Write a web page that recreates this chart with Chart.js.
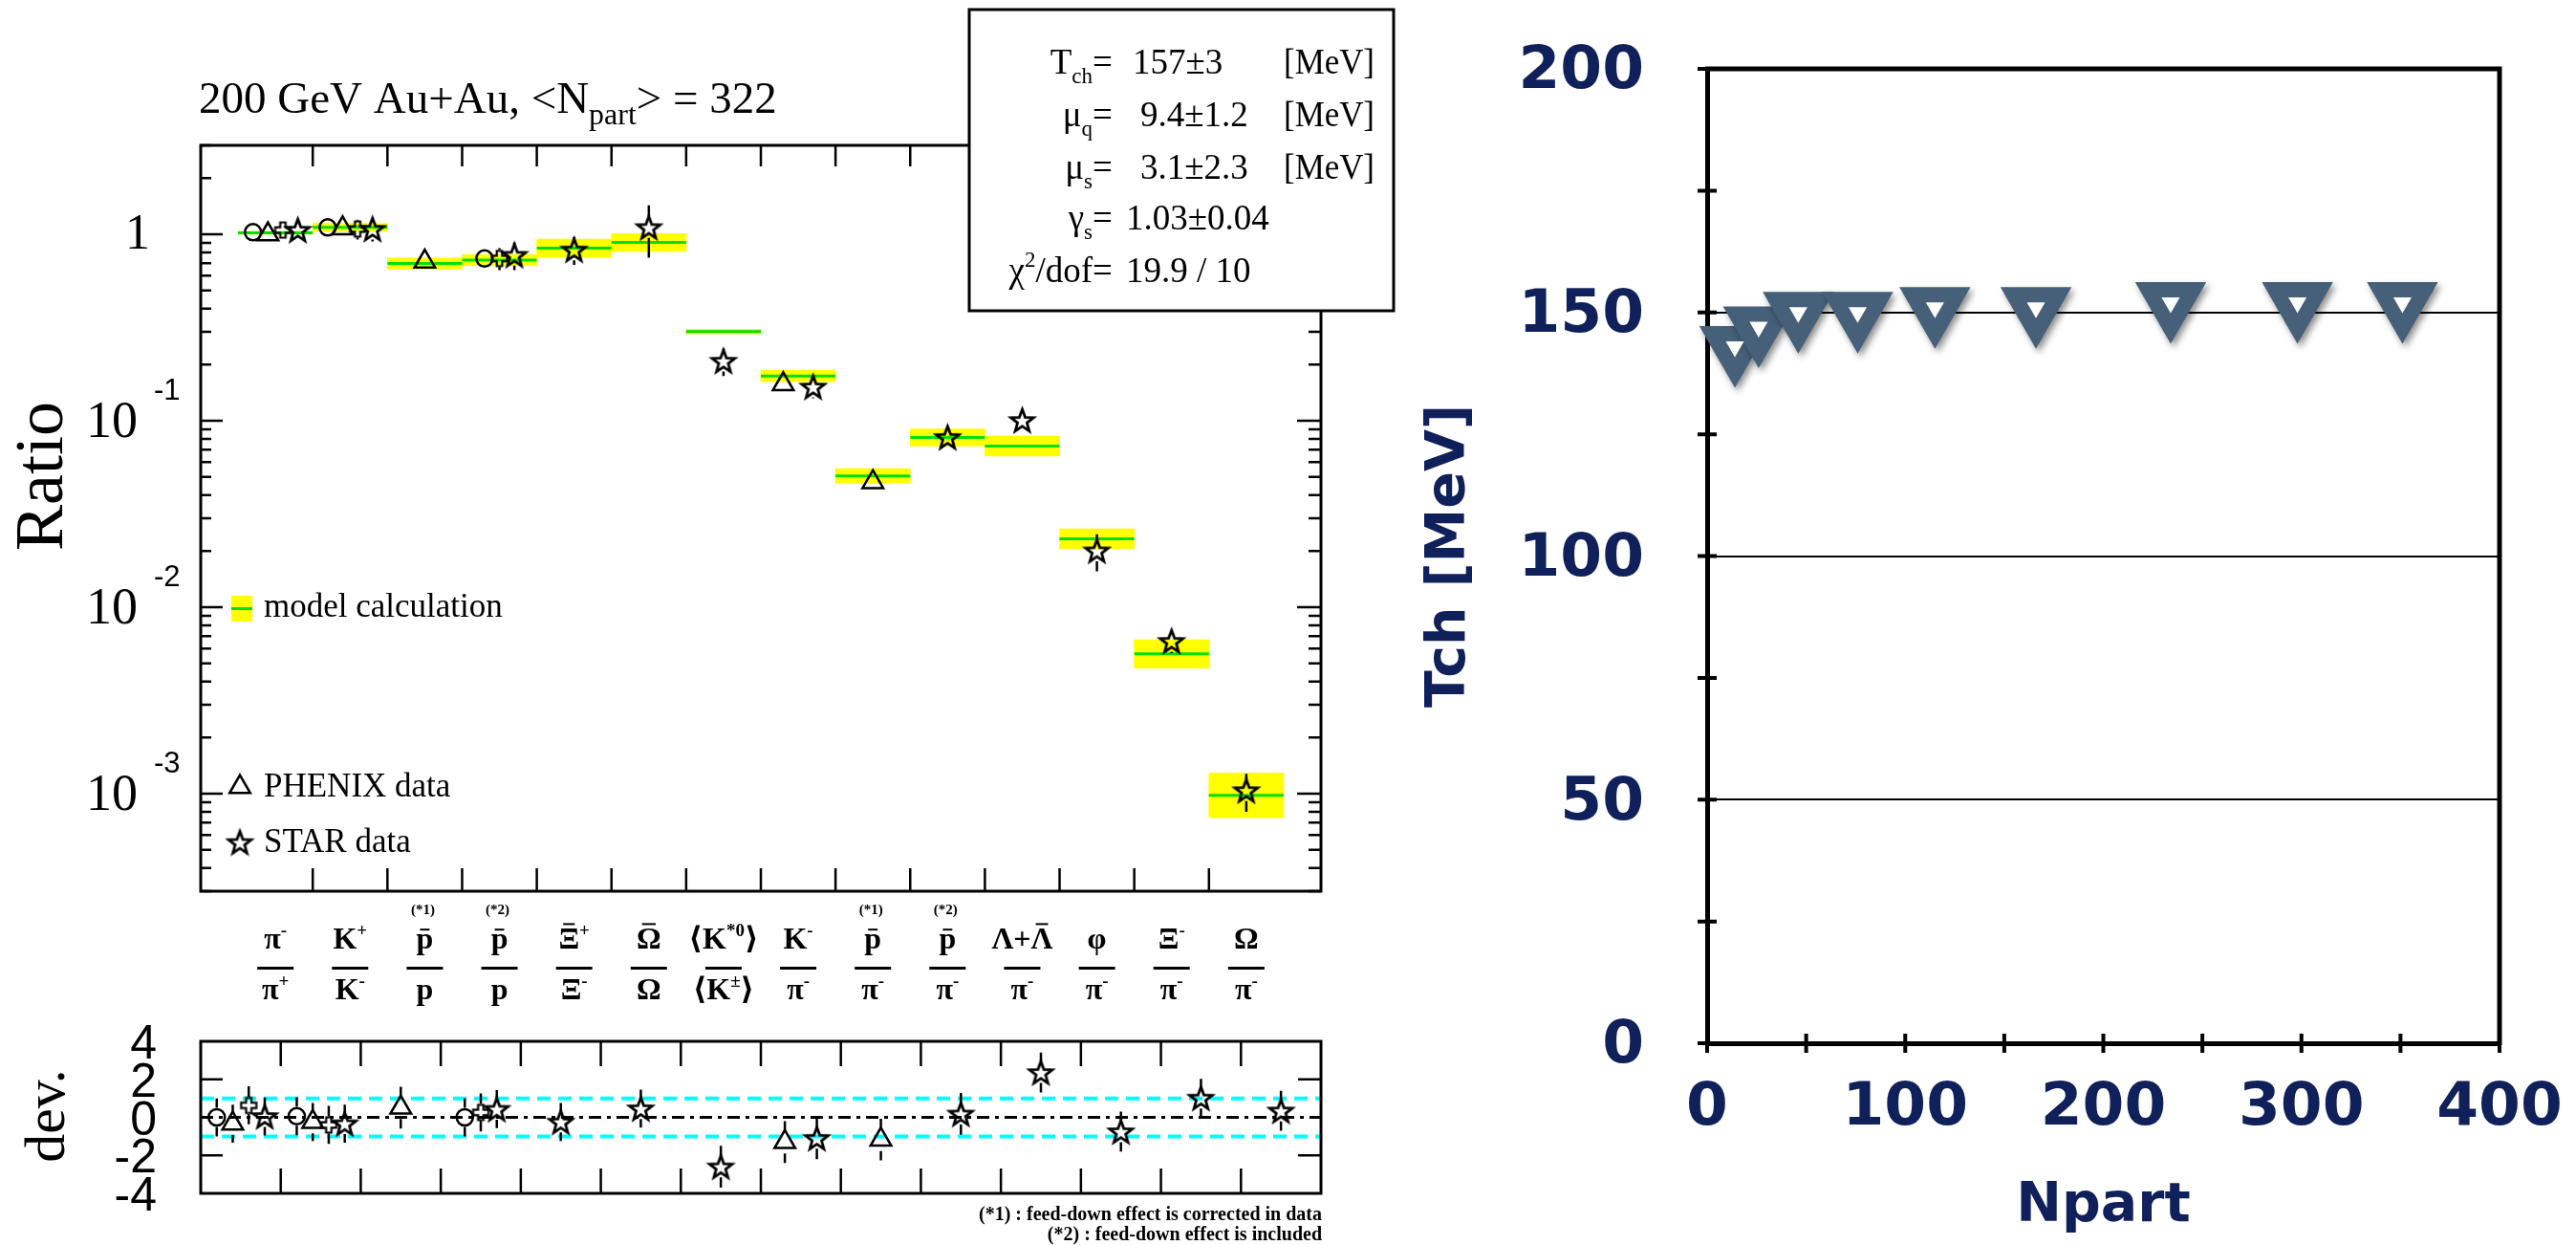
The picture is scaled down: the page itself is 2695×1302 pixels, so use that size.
<!DOCTYPE html>
<html><head><meta charset="utf-8">
<script src="https://cdn.jsdelivr.net/npm/chart.js@4.4.1/dist/chart.umd.min.js"></script>
<style>
html,body{margin:0;padding:0;background:#fff;}
#wrap{position:relative;width:2695px;height:1302px;overflow:hidden;background:#fff;}
#wrap canvas{position:absolute;left:0;top:0;width:2695px;height:1302px;}
</style></head><body>
<div id="wrap">
<canvas id="cRatio" width="2695" height="1302"></canvas>
<canvas id="cDev" width="2695" height="1302"></canvas>
<canvas id="cTch" width="2695" height="1302"></canvas>
</div>
<script>
// ================= DATA =================
// Left panel: particle ratios, 200 GeV Au+Au, <Npart> = 322
const ratioNumerators   = ['π^{-}','K^{+}','p̄','p̄','Ξ̄^{+}','Ω̄','⟨K^{*0}⟩','K^{-}','p̄','p̄','Λ+Λ̄','φ','Ξ^{-}','Ω'];
const ratioDenominators = ['π^{+}','K^{-}','p','p','Ξ^{-}','Ω','⟨K^{±}⟩','π^{-}','π^{-}','π^{-}','π^{-}','π^{-}','π^{-}','π^{-}'];
const feedDownNotes     = ['','','(*1)','(*2)','','','','','(*1)','(*2)','','','',''];

const modelRatio = [1.018, 1.089, 0.697, 0.728, 0.842, 0.904, 0.301, 0.174, 0.0506, 0.0813, 0.0731, 0.0233, 0.00562, 0.00098];
const modelError = [0.018, 0.055, 0.050, 0.051, 0.100, 0.104, 0.009, 0.013, 0.0048, 0.0090, 0.0095, 0.0030, 0.00107, 0.00031];

const brahmsRatio = [1.026, 1.089, null, 0.742, null, null, null, null, null, null, null, null, null, null];
const brahmsError = [0.03, 0.03, null, 0.07, null, null, null, null, null, null, null, null, null, null];
const phenixRatio = [1.000, 1.076, 0.714, null, null, null, null, 0.157, 0.0469, null, null, null, null, null];
const phenixError = [0.03, 0.03, 0.05, null, null, null, null, 0.008, 0.003, null, null, null, null, null];
const phobosRatio = [1.054, 1.067, null, 0.742, null, null, null, null, null, null, null, null, null, null];
const phobosError = [0.10, 0.13, null, 0.10, null, null, null, null, null, null, null, null, null, null];
const starRatio   = [1.054, 1.067, null, 0.773, 0.826, 1.089, 0.209, 0.152, null, 0.0815, 0.1005, 0.0201, 0.00657, 0.00104];
const starError   = [0.10, 0.15, null, 0.13, 0.14, 0.34, 0.035, 0.020, null, 0.008, 0.008, 0.0045, 0.0009, 0.00024];

const brahmsDev = [0.00, 0.06, null, 0.00, null, null, null, null, null, null, null, null, null, null];
const phenixDev = [-0.33, -0.24, 0.51, null, null, null, null, -1.30, -1.17, null, null, null, null, null];
const phobosDev = [0.63, -0.40, null, 0.26, null, null, null, null, null, null, null, null, null, null];
const starDev   = [0.05, -0.33, null, 0.43, -0.24, 0.46, -2.60, -1.10, null, 0.18, 2.36, -0.75, 1.02, 0.34];
const devUncertainty = [1.0, 1.0, 1.1, 1.0, 1.0, 1.0, 1.1, 1.1, 1.1, 1.1, 1.05, 1.05, 1.0, 1.05];
const devBands = [-1, 0, 1];

const ratioTicks = [1e-3, 1e-2, 1e-1, 1];
const devTicks = [4, 2, 0, -2, -4];

const fitParams = [
  {name:'T', sub:'ch', value:'157±3',     unit:'[MeV]'},
  {name:'μ', sub:'q',  value:'9.4±1.2',   unit:'[MeV]'},
  {name:'μ', sub:'s',  value:'3.1±2.3',   unit:'[MeV]'},
  {name:'γ', sub:'s',  value:'1.03±0.04', unit:''},
  {name:'χ', sup:'2', tail:'/dof', value:'19.9 / 10', unit:''}
];
const footNotes = ['(*1) : feed-down effect is corrected in data', '(*2) : feed-down effect is included'];
const legendLabels = ['model calculation', 'PHENIX data', 'STAR data'];

// Right panel: chemical freeze-out temperature vs Npart
const npart = [14, 26, 46, 76, 115, 166, 234, 298, 351];
const tch   = [143, 147, 150, 150, 151, 151, 152, 152, 152];
const npartTicks = [0, 100, 200, 300, 400];
const tchTicks = [0, 50, 100, 150, 200];

// ================= STYLE =================
const SERIF = '"Liberation Serif","DejaVu Serif",serif';
const SANS = '"Liberation Sans","DejaVu Sans",sans-serif';
const ROUND = '"DejaVu Sans",sans-serif';
const NAVY = '#10205a';
const MACRON = '\u0304';
const SLOT_OFFSETS = {1:[0], 2:[-0.2, 0.2], 3:[-0.2, 0, 0.2], 4:[-0.3, -0.1, 0.1, 0.3]};

function makeStarImage(R, r, lw) {
  const s = Math.ceil(2 * R + 2 * lw + 4);
  const c = document.createElement('canvas'); c.width = s; c.height = s;
  const g = c.getContext('2d');
  g.translate(s / 2, s / 2 + 1);
  g.beginPath();
  for (let k = 0; k < 10; k++) {
    const ang = -Math.PI / 2 + k * Math.PI / 5;
    const rr = (k % 2) ? r : R;
    g.lineTo(rr * Math.cos(ang), rr * Math.sin(ang));
  }
  g.closePath();
  g.lineWidth = lw; g.strokeStyle = '#000'; g.lineJoin = 'miter'; g.stroke();
  return c;
}
function makeCrossImage(a, t, lw) {
  const s = Math.ceil(2 * a + 2 * lw + 4);
  const c = document.createElement('canvas'); c.width = s; c.height = s;
  const g = c.getContext('2d');
  g.translate(s / 2, s / 2);
  const pts = [[-t,-a],[t,-a],[t,-t],[a,-t],[a,t],[t,t],[t,a],[-t,a],[-t,t],[-a,t],[-a,-t],[-t,-t]];
  g.beginPath(); pts.forEach(p => g.lineTo(p[0], p[1])); g.closePath();
  g.lineWidth = lw; g.strokeStyle = '#000'; g.stroke();
  return c;
}
const starImg = makeStarImage(12.5, 5.2, 2.8);
const crossImg = makeCrossImage(8, 2.8, 2.2);

const MARKERS = {
  circle:   {pointStyle:'circle', pointRadius:8.5, borderWidth:2.5, gap:10},
  triangle: {pointStyle:'triangle', pointRadius:12.5, borderWidth:2.5, gap:12},
  cross:    {pointStyle:crossImg, pointRadius:9, borderWidth:0, gap:9},
  star:     {pointStyle:starImg, pointRadius:12, borderWidth:0, gap:11}
};

const EXPERIMENTS = [
  {name:'BRAHMS', ratio:brahmsRatio, err:brahmsError, dev:brahmsDev, marker:'circle'},
  {name:'PHENIX', ratio:phenixRatio, err:phenixError, dev:phenixDev, marker:'triangle'},
  {name:'PHOBOS', ratio:phobosRatio, err:phobosError, dev:phobosDev, marker:'cross'},
  {name:'STAR',   ratio:starRatio,   err:starError,   dev:starDev,   marker:'star'}
];

function slotX(exp, col) {
  const present = EXPERIMENTS.filter(e => e.ratio[col] != null);
  return col + 0.5 + SLOT_OFFSETS[present.length][present.indexOf(exp)];
}

function markerDatasets(kind) {
  return EXPERIMENTS.map(exp => {
    const m = MARKERS[exp.marker];
    const data = [], errors = [];
    exp.ratio.forEach((v, col) => {
      if (v == null) return;
      if (kind === 'ratio') { data.push({x: slotX(exp, col), y: v}); errors.push(exp.err[col]); }
      else { data.push({x: slotX(exp, col), y: exp.dev[col]}); errors.push(devUncertainty[col]); }
    });
    return {
      type:'scatter', label: exp.name + ' data', data, errors, errorGap: m.gap,
      pointStyle: m.pointStyle, pointRadius: m.pointRadius, pointHoverRadius: m.pointRadius,
      borderColor:'#000', backgroundColor:'rgba(0,0,0,0)', borderWidth: m.borderWidth,
      clip:false, order:0
    };
  });
}

// ---------- plugins ----------
const errorBarPlugin = {
  id:'errorBars',
  afterDatasetsDraw(chart) {
    const ctx = chart.ctx, ys = chart.scales.y;
    chart.data.datasets.forEach((ds, di) => {
      if (!ds.errors) return;
      const meta = chart.getDatasetMeta(di);
      meta.data.forEach((pt, j) => {
        const e = ds.errors[j]; if (!e) return;
        const v = ds.data[j].y;
        const yTop = ys.getPixelForValue(v + e), yBot = ys.getPixelForValue(v - e);
        const gap = ds.errorGap || 0;
        ctx.save(); ctx.strokeStyle = '#000'; ctx.lineWidth = 2.5; ctx.beginPath();
        if (pt.y - gap > yTop) { ctx.moveTo(pt.x, yTop); ctx.lineTo(pt.x, pt.y - gap); }
        if (pt.y + gap < yBot) { ctx.moveTo(pt.x, pt.y + gap); ctx.lineTo(pt.x, yBot); }
        ctx.stroke(); ctx.restore();
      });
    });
  }
};

// rich text: "^{...}" superscript, combining macron -> drawn overline
function parseRich(str) {
  const out = []; const re = /\^\{([^}]*)\}/g; let last = 0, m;
  const pushPlain = (t) => {
    const chars = Array.from(t);
    let buf = '';
    chars.forEach((c, k) => {
      if (c === MACRON) return;
      if (chars[k + 1] === MACRON) {
        if (buf) { out.push({t:buf, sup:false}); buf = ''; }
        out.push({t:c, sup:false, bar:true});
      } else buf += c;
    });
    if (buf) out.push({t:buf, sup:false});
  };
  while ((m = re.exec(str))) { if (m.index > last) pushPlain(str.slice(last, m.index)); out.push({t:m[1], sup:true}); last = re.lastIndex; }
  if (last < str.length) pushPlain(str.slice(last));
  return out;
}
function richWidth(ctx, str, size, weight) {
  let w = 0;
  parseRich(str).forEach(s => { ctx.font = `${weight} ${s.sup ? Math.round(size * 0.6) : size}px ${SERIF}`; w += ctx.measureText(s.t).width; });
  return w;
}
function drawRichCentered(ctx, str, cx, base, size, weight) {
  const w = richWidth(ctx, str, size, weight);
  let x = cx - w / 2;
  ctx.textAlign = 'left'; ctx.textBaseline = 'alphabetic';
  parseRich(str).forEach(s => {
    const fs = s.sup ? Math.round(size * 0.6) : size;
    ctx.font = `${weight} ${fs}px ${SERIF}`;
    ctx.fillText(s.t, x, s.sup ? base - size * 0.42 : base);
    const tw = ctx.measureText(s.t).width;
    if (s.bar) {
      const capital = s.t !== s.t.toLowerCase();
      const by = base - size * (capital ? 0.80 : 0.62);
      ctx.save(); ctx.lineWidth = 2; ctx.beginPath();
      ctx.moveTo(x + tw * 0.22, by); ctx.lineTo(x + tw * 0.78, by); ctx.stroke(); ctx.restore();
    }
    x += tw;
  });
}

function drawTriangleMarker(ctx, x, y, r) {
  ctx.beginPath();
  ctx.moveTo(x, y - r);
  ctx.lineTo(x + r * Math.sin(2 * Math.PI / 3), y - r * Math.cos(2 * Math.PI / 3));
  ctx.lineTo(x + r * Math.sin(4 * Math.PI / 3), y - r * Math.cos(4 * Math.PI / 3));
  ctx.closePath(); ctx.lineWidth = 2.5; ctx.strokeStyle = '#000'; ctx.stroke();
}

const ratioDecor = {
  id:'ratioDecor',
  afterDraw(chart) {
    const {ctx, chartArea:a, scales:{x, y}} = chart;
    ctx.save();
    ctx.strokeStyle = '#000'; ctx.fillStyle = '#000';
    ctx.lineWidth = 3;
    ctx.strokeRect(a.left, a.top, a.right - a.left, a.bottom - a.top);
    ctx.lineWidth = 2.5; ctx.beginPath();
    for (let n = -4; n <= 0; n++) for (let k = 1; k <= 9; k++) {
      const v = k * Math.pow(10, n);
      if (v < y.min * 0.999 || v > y.max * 1.001) continue;
      const py = y.getPixelForValue(v);
      const len = k === 1 ? 23 : 11;
      ctx.moveTo(a.left, py); ctx.lineTo(a.left + len, py);
      ctx.moveTo(a.right, py); ctx.lineTo(a.right - len - 2, py);
    }
    for (let i = 1; i < ratioNumerators.length; i++) {
      const px = x.getPixelForValue(i);
      ctx.moveTo(px, a.top); ctx.lineTo(px, a.top + 22);
      ctx.moveTo(px, a.bottom); ctx.lineTo(px, a.bottom - 24);
    }
    ctx.stroke();

    // y tick labels
    ratioTicks.forEach(v => {
      const py = y.getPixelForValue(v);
      const e = Math.round(Math.log10(v));
      ctx.textBaseline = 'alphabetic';
      if (e === 0) { ctx.font = `52px ${SERIF}`; ctx.textAlign = 'right'; ctx.fillText('1', 157, py + 15); }
      else {
        ctx.font = `54px ${SERIF}`; ctx.textAlign = 'right'; ctx.fillText('10', 144, py + 17);
        ctx.font = `31px ${SANS}`; ctx.textAlign = 'left'; ctx.fillText(String(e), 161, py - 22);
      }
    });
    // axis title
    ctx.save(); ctx.translate(46, 498); ctx.rotate(-Math.PI / 2);
    ctx.font = `72px ${SERIF}`; ctx.textAlign = 'center'; ctx.textBaseline = 'middle';
    ctx.fillText('Ratio', 0, 0); ctx.restore();

    // title
    ctx.textAlign = 'left'; ctx.textBaseline = 'alphabetic';
    ctx.font = `47px ${SERIF}`;
    let tx = 208; const tb = 118;
    const t1 = '200 GeV Au+Au, <N'; ctx.fillText(t1, tx, tb); tx += ctx.measureText(t1).width;
    ctx.font = `32px ${SERIF}`; ctx.fillText('part', tx, tb + 12); tx += ctx.measureText('part').width;
    ctx.font = `47px ${SERIF}`; ctx.fillText('> = 322', tx, tb);

    // legend
    ctx.fillStyle = '#ffff00'; ctx.fillRect(242, 623, 22, 27);
    ctx.strokeStyle = '#00e000'; ctx.lineWidth = 3; ctx.beginPath(); ctx.moveTo(242, 636.5); ctx.lineTo(264, 636.5); ctx.stroke();
    ctx.fillStyle = '#000'; ctx.font = `35px ${SERIF}`;
    ctx.fillText(legendLabels[0], 276, 645, 251);
    drawTriangleMarker(ctx, 251, 823, 12.5);
    ctx.fillText(legendLabels[1], 276, 833, 196);
    ctx.drawImage(starImg, 251 - starImg.width / 2, 881 - starImg.height / 2);
    ctx.fillText(legendLabels[2], 276, 891, 166);

    // category labels (fractions)
    ctx.fillStyle = '#000'; ctx.strokeStyle = '#000';
    ratioNumerators.forEach((num, i) => {
      const cx = x.getPixelForValue(i + 0.5);
      drawRichCentered(ctx, num, cx, 992, 32, 'bold');
      drawRichCentered(ctx, ratioDenominators[i], cx, 1045, 32, 'bold');
      ctx.lineWidth = 3; ctx.beginPath(); ctx.moveTo(cx - 19, 1012.5); ctx.lineTo(cx + 19, 1012.5); ctx.stroke();
      if (feedDownNotes[i]) { ctx.font = `bold 15px ${SERIF}`; ctx.textAlign = 'center'; ctx.fillText(feedDownNotes[i], cx - 2, 956); }
    });

    // parameter box
    ctx.fillStyle = '#fff'; ctx.fillRect(1014, 10, 444, 315);
    ctx.strokeStyle = '#000'; ctx.lineWidth = 3; ctx.strokeRect(1014, 10, 444, 315);
    ctx.fillStyle = '#000'; ctx.textBaseline = 'alphabetic';
    const bases = [77, 132, 187, 240, 295];
    const valX = [1185, 1193, 1193, 1178, 1178];
    fitParams.forEach((p, i) => {
      const b = bases[i];
      ctx.font = `37px ${SERIF}`; const wn = ctx.measureText(p.name).width;
      ctx.font = `23px ${SERIF}`; const ws = ctx.measureText(p.sub || p.sup).width;
      ctx.font = `37px ${SERIF}`; const wt = p.tail ? ctx.measureText(p.tail).width : 0;
      let sx = 1143 - wn - ws - wt;
      ctx.textAlign = 'left';
      ctx.font = `37px ${SERIF}`; ctx.fillText(p.name, sx, b); sx += wn;
      ctx.font = `23px ${SERIF}`; ctx.fillText(p.sub || p.sup, sx, p.sub ? b + 10 : b - 16); sx += ws;
      if (p.tail) { ctx.font = `37px ${SERIF}`; ctx.fillText(p.tail, sx, b); }
      ctx.font = `37px ${SERIF}`;
      ctx.fillText('=', 1143, b);
      ctx.fillText(p.value, valX[i], b);
      if (p.unit) ctx.fillText(p.unit, 1343, b, 95);
    });
    ctx.restore();
  }
};

const devDecor = {
  id:'devDecor',
  afterDraw(chart) {
    const {ctx, chartArea:a, scales:{x, y}} = chart;
    ctx.save(); ctx.strokeStyle = '#000'; ctx.fillStyle = '#000';
    ctx.lineWidth = 3; ctx.strokeRect(a.left, a.top, a.right - a.left, a.bottom - a.top);
    ctx.lineWidth = 2.5; ctx.beginPath();
    for (let i = 1; i < ratioNumerators.length; i++) {
      const px = x.getPixelForValue(i);
      ctx.moveTo(px, a.top); ctx.lineTo(px, a.top + 26);
      ctx.moveTo(px, a.bottom); ctx.lineTo(px, a.bottom - 26);
    }
    devTicks.forEach(v => {
      if (v === y.max || v === y.min || v === 0) return;
      const py = y.getPixelForValue(v);
      ctx.moveTo(a.left, py); ctx.lineTo(a.left + 23, py);
      ctx.moveTo(a.right, py); ctx.lineTo(a.right - 24, py);
    });
    ctx.stroke();
    ctx.font = `50px ${SANS}`; ctx.textAlign = 'right'; ctx.textBaseline = 'alphabetic';
    devTicks.forEach(v => { ctx.fillText(String(v), 164, y.getPixelForValue(v) + 18); });
    ctx.save(); ctx.translate(51, 1167); ctx.rotate(-Math.PI / 2);
    ctx.font = `60px ${SERIF}`; ctx.textAlign = 'center'; ctx.textBaseline = 'middle';
    ctx.fillText('dev.', 0, 0); ctx.restore();
    ctx.font = `bold 20px ${SERIF}`; ctx.textAlign = 'right'; ctx.textBaseline = 'alphabetic';
    ctx.fillText(footNotes[0], 1383, 1276, 403);
    ctx.fillText(footNotes[1], 1383, 1297, 328);
    ctx.restore();
  }
};

// ================= LEFT: RATIO CHART =================
const cols = ratioNumerators.map((_, i) => i);
// model uncertainty band, drawn symmetric on the logarithmic axis
const bandData = cols.map(i => {
  const f = 1 + modelError[i] / modelRatio[i];
  return {x: i + 0.5, y: [modelRatio[i] / f, modelRatio[i] * f]};
});
const modelLine = [];
cols.forEach(i => { modelLine.push({x: i, y: modelRatio[i]}, {x: i + 1, y: modelRatio[i]}, {x: i + 1, y: null}); });

new Chart(document.getElementById('cRatio'), {
  type:'scatter',
  data:{ datasets:[
    {type:'bar', label:'model calculation (band)', data:bandData, backgroundColor:'#ffff00', borderWidth:0,
     barPercentage:1, categoryPercentage:1, order:5},
    {type:'line', label:'model calculation', data:modelLine, borderColor:'#00e000', borderWidth:3,
     pointRadius:0, spanGaps:false, fill:false, order:4},
    ...markerDatasets('ratio')
  ]},
  options:{
    responsive:false, animation:false, devicePixelRatio:1,
    layout:{padding:{left:210, right:1313, top:152, bottom:370}},
    plugins:{legend:{display:false}, tooltip:{enabled:false}},
    scales:{
      x:{type:'linear', display:false, min:0, max:ratioNumerators.length, ticks:{stepSize:1}},
      y:{type:'logarithmic', display:false, min:3e-4, max:3}
    }
  },
  plugins:[errorBarPlugin, ratioDecor]
});

// ================= LEFT: DEVIATION CHART =================
const devLines = devBands.map(b => ({
  type:'line', label: b === 0 ? 'zero' : 'one sigma',
  data:[{x:0, y:b}, {x:ratioNumerators.length, y:b}],
  borderColor: b === 0 ? '#000' : '#00ffff', borderWidth: b === 0 ? 3 : 4,
  borderDash: b === 0 ? [13, 6, 4, 6] : [14, 8], pointRadius:0, order:5
}));
new Chart(document.getElementById('cDev'), {
  type:'scatter',
  data:{ datasets:[...devLines, ...markerDatasets('dev')] },
  options:{
    responsive:false, animation:false, devicePixelRatio:1,
    layout:{padding:{left:210, right:1313, top:1089, bottom:54}},
    plugins:{legend:{display:false}, tooltip:{enabled:false}},
    scales:{
      x:{type:'linear', display:false, min:0, max:ratioNumerators.length},
      y:{type:'linear', display:false, min:-4, max:4}
    }
  },
  plugins:[errorBarPlugin, devDecor]
});

// ================= RIGHT: Tch vs Npart =================
const tchPoints = npart.map((n, i) => ({x:n, y:tch[i]}));
const shadowPlugin = {
  id:'shadow',
  beforeDatasetDraw(chart, args) {
    if (args.index !== 0) return;
    const c = chart.ctx; c.save();
    c.shadowColor = 'rgba(0,0,0,0.45)'; c.shadowBlur = 7; c.shadowOffsetX = 3; c.shadowOffsetY = 4;
  },
  afterDatasetDraw(chart, args) { if (args.index === 0) chart.ctx.restore(); }
};
const tchFrame = {
  id:'tchFrame',
  afterDraw(chart) {
    const {ctx, chartArea:a, scales:{x, y}} = chart;
    ctx.save(); ctx.strokeStyle = '#000';
    ctx.lineWidth = 5; ctx.beginPath();
    ctx.moveTo(a.left - 2, a.top); ctx.lineTo(a.right, a.top); ctx.lineTo(a.right, a.bottom + 2);
    ctx.stroke();
    ctx.lineWidth = 4; ctx.beginPath();
    const yStep = (tchTicks[1] - tchTicks[0]) / 2;
    for (let v = tchTicks[0]; v <= tchTicks[tchTicks.length - 1]; v += yStep) {
      const py = y.getPixelForValue(v); ctx.moveTo(a.left - 10, py); ctx.lineTo(a.left + 10, py);
    }
    const xStep = (npartTicks[1] - npartTicks[0]) / 2;
    for (let v = npartTicks[0]; v <= npartTicks[npartTicks.length - 1]; v += xStep) {
      const px = x.getPixelForValue(v); ctx.moveTo(px, a.bottom - 10); ctx.lineTo(px, a.bottom + 10);
    }
    ctx.stroke(); ctx.restore();
  }
};
new Chart(document.getElementById('cTch'), {
  type:'scatter',
  data:{ datasets:[
    {label:'Tch', data:tchPoints, pointStyle:'triangle', rotation:180, pointRadius:43, pointHoverRadius:43,
     backgroundColor:'#46607a', borderColor:'#46607a', borderWidth:0, clip:false, order:1},
    {label:'Tch marker core', data:tchPoints, pointStyle:'triangle', rotation:180, pointRadius:11, pointHoverRadius:11,
     backgroundColor:'#ffffff', borderColor:'#ffffff', borderWidth:0, clip:false, order:0}
  ]},
  options:{
    responsive:false, animation:false, devicePixelRatio:1,
    layout:{padding:{left:1483, right:80, top:72, bottom:6}},
    plugins:{legend:{display:false}, tooltip:{enabled:false}},
    scales:{
      x:{type:'linear', min:npartTicks[0], max:npartTicks[npartTicks.length - 1],
         afterBuildTicks(s){ s.ticks = npartTicks.map(v => ({value:v})); },
         afterFit(s){ s.height = 205; s.paddingLeft = 0; s.paddingRight = 0; },
         grid:{display:false, drawTicks:false}, border:{display:true, width:5, color:'#000'},
         ticks:{padding:31, color:NAVY, maxRotation:0, autoSkip:false, font:{family:ROUND, size:63, weight:'bold'}},
         title:{display:true, text:'Npart', color:NAVY, padding:0, font:{family:ROUND, size:57, weight:'bold'}}},
      y:{type:'linear', min:tchTicks[0], max:tchTicks[tchTicks.length - 1],
         afterBuildTicks(s){ s.ticks = tchTicks.map(v => ({value:v})); },
         afterFit(s){ s.width = 303; s.paddingTop = 0; s.paddingBottom = 0; },
         grid:{color:'#000', lineWidth:2, drawTicks:false}, border:{display:true, width:5, color:'#000'},
         ticks:{padding:66, color:NAVY, labelOffset:4, font:{family:ROUND, size:63, weight:'bold'}},
         title:{display:true, text:'Tch [MeV]', color:NAVY, padding:0, font:{family:ROUND, size:57, weight:'bold'}}}
    }
  },
  plugins:[shadowPlugin, tchFrame]
});
</script>
</body></html>
